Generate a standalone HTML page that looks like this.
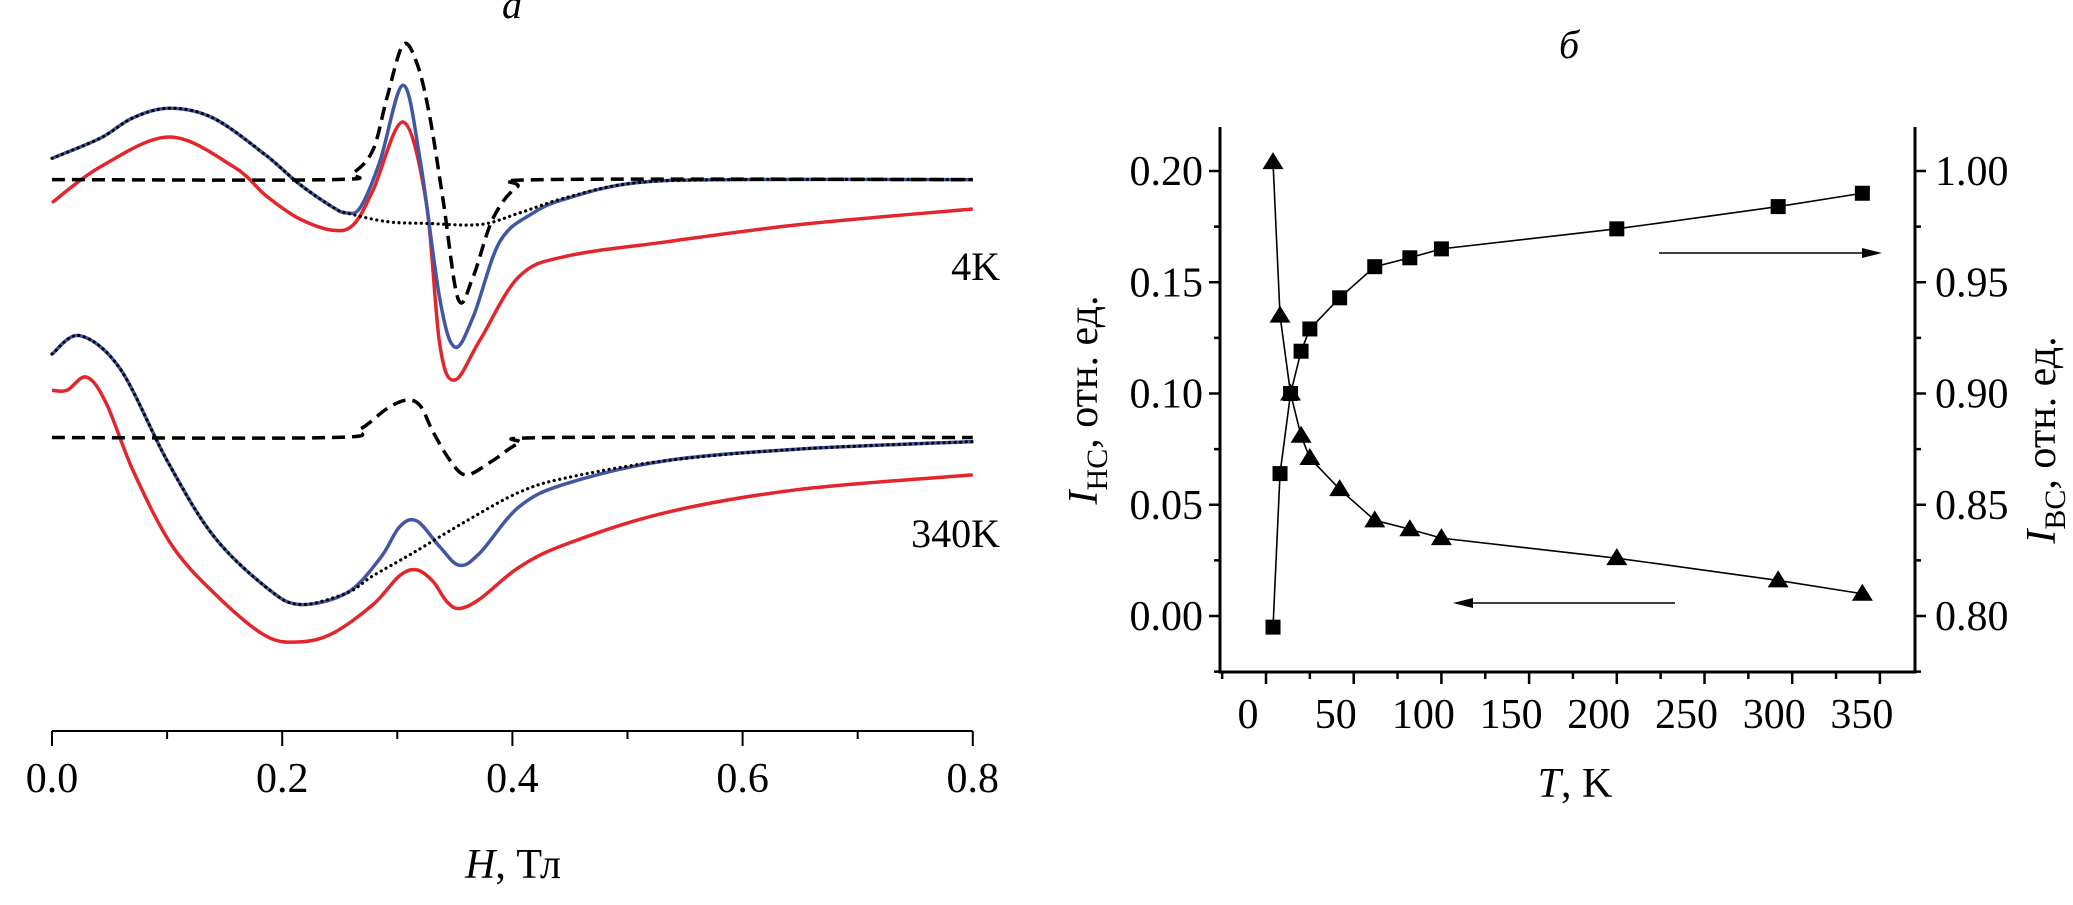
<!DOCTYPE html>
<html><head><meta charset="utf-8"><style>
body{margin:0;background:#fff}
svg text{font-family:"Liberation Serif",serif;fill:#000}
</style></head><body>
<svg id="fig" width="2073" height="900" viewBox="0 0 2073 900" xmlns="http://www.w3.org/2000/svg">
<g id="left"></g>
<g id="right"></g>
</svg>
<script>
// ---------- Panel a data (H in T, signal in a.u.) ----------
const env4H=[0,0.042,0.07,0.102,0.14,0.186,0.215,0.244,0.256];
const env4V=[102.5,106,109.5,111.2,109.5,103,98,94,93];
const blue4H=[0.268,0.285,0.305,0.320,0.337,0.350,0.366,0.389,0.418,0.447,0.505,0.592,0.8];
const blue4V=[94,102,115.2,102,78,69.7,75,88,93,95.5,98.2,98.8,98.8];
const dot4H=[0.291,0.325,0.372,0.406,0.447,0.505,0.592,0.8];
const dot4V=[91.5,91.2,91,93,95.7,98.2,98.8,98.8];
const dash4H=[0,0.244,0.262,0.279,0.291,0.305,0.317,0.328,0.34,0.353,0.366,0.383,0.404,0.43,0.8];
const dash4V=[98.8,98.8,100,104,113,122.2,119,110,95,78,82,92,97.5,98.8,98.8];
const red4H=[0,0.042,0.102,0.158,0.186,0.215,0.244,0.262,0.279,0.305,0.325,0.337,0.350,0.372,0.406,0.447,0.534,0.65,0.8];
const red4V=[94.8,101,106.2,101,96,92,90,91,97,108.8,95,70,64,71,82,85.5,88,91,93.7];
const env340H=[0,0.024,0.059,0.1,0.14,0.186,0.215,0.256];
const env340V=[68.5,71.7,66,50,37,28,25,27];
const blue340H=[0.285,0.302,0.317,0.337,0.354,0.372,0.406,0.447,0.534,0.65,0.8];
const blue340V=[33,38.5,39.5,35,31.8,34,42,46,50,52,53.3];
const dot340H=[0.279,0.314,0.360,0.406,0.447,0.534,0.65,0.8];
const dot340V=[30,34,39.5,44.5,47,50,52,53.3];
const dash340H=[0,0.244,0.268,0.291,0.308,0.320,0.331,0.346,0.360,0.383,0.406,0.435,0.8];
const dash340V=[54,54,55.5,59,60.5,59.5,55,50,47.5,50,53,54,54];
const red340H=[0,0.013,0.03,0.047,0.071,0.105,0.146,0.186,0.215,0.244,0.279,0.302,0.317,0.331,0.343,0.354,0.372,0.406,0.447,0.534,0.65,0.8];
const red340V=[62.2,62.2,64.5,60,48,35,26,19.5,18.5,20,25,30,31,29,25.5,24.3,26,31.5,35.5,41,45,47.5];
const hTicks=[0,0.1,0.2,0.3,0.4,0.5,0.6,0.7,0.8];
const hLabels=["0.0","","0.2","","0.4","","0.6","","0.8"];

// ---------- Panel b data ----------
const triT=[4,8,14,20,25,42,62,82,100,200,292,340];
const triV=[0.204,0.135,0.100,0.081,0.071,0.057,0.043,0.039,0.035,0.026,0.016,0.010];
const sqT=[4,8,14,20,25,42,62,82,100,200,292,340];
const sqV=[0.795,0.864,0.900,0.919,0.929,0.943,0.957,0.961,0.965,0.974,0.984,0.990];
const tTicks=[0,50,100,150,200,250,300,350];
const lTicks=[0,0.05,0.10,0.15,0.20];
const lLabels=["0.00","0.05","0.10","0.15","0.20"];
const rTicks=[0.80,0.85,0.90,0.95,1.00];
const rLabels=["0.80","0.85","0.90","0.95","1.00"];

const NS="http://www.w3.org/2000/svg";
function mk(parent,tag,attrs,text){const e=document.createElementNS(NS,tag);for(const k in attrs)e.setAttribute(k,attrs[k]);if(text!==undefined)e.textContent=text;parent.appendChild(e);return e;}
const hx=h=>52+h*1151;
const ay=v=>748.4-v*5.757;
function smooth(pts){let d="M"+pts[0][0]+","+pts[0][1];for(let i=0;i<pts.length-1;i++){const p0=pts[Math.max(i-1,0)],p1=pts[i],p2=pts[i+1],p3=pts[Math.min(i+2,pts.length-1)];const c1=[p1[0]+(p2[0]-p0[0])/6,p1[1]+(p2[1]-p0[1])/6],c2=[p2[0]-(p3[0]-p1[0])/6,p2[1]-(p3[1]-p1[1])/6];d+=" C"+c1[0].toFixed(1)+","+c1[1].toFixed(1)+" "+c2[0].toFixed(1)+","+c2[1].toFixed(1)+" "+p2[0].toFixed(1)+","+p2[1].toFixed(1);}return d;}
function pts(H,V){return H.map((h,i)=>[hx(h),ay(V[i])]);}
const L=document.getElementById('left');
function curve(H,V,style,name){const p=mk(L,'path',{d:smooth(pts(H,V)),fill:'none',...style});

}
const red={stroke:'#e3262b','stroke-width':3.5};
const blue={stroke:'#4257a3','stroke-width':3.5};
const dash={stroke:'#000','stroke-width':3.5,'stroke-dasharray':'13 7'};
const dot={stroke:'#000','stroke-width':3.2,'stroke-dasharray':'0.1 5.5','stroke-linecap':'round'};
curve(red4H.slice(),red4V,red,'red-curve-4k');
curve(env4H.concat(blue4H),env4V.concat(blue4V),blue,'blue-curve-4k');
curve(env4H.concat(dot4H),env4V.concat(dot4V),dot,'dotted-curve-4k');
curve(dash4H,dash4V,dash,'dashed-curve-4k');
curve(red340H,red340V,red,'red-curve-340k');
curve(env340H.concat(blue340H),env340V.concat(blue340V),blue,'blue-curve-340k');
curve(env340H.concat(dot340H),env340V.concat(dot340V),dot,'dotted-curve-340k');
curve(dash340H,dash340V,dash,'dashed-curve-340k');
// axis
let ax=mk(L,'line',{x1:hx(0),x2:hx(0.8),y1:731,y2:731,stroke:'#000','stroke-width':2});


hTicks.forEach((t,i)=>{const major=hLabels[i]!=="";
const tk=mk(L,'line',{x1:hx(t),x2:hx(t),y1:731,y2:major?746:739,stroke:'#000','stroke-width':2});


if(major){const tl=mk(L,'text',{x:hx(t),y:792,'font-size':42,'text-anchor':'middle'},hLabels[i]);

}});
let t1=mk(L,'text',{x:513,y:878,'font-size':42,'text-anchor':'middle'});t1.innerHTML='<tspan font-style="italic">H</tspan>, Тл';


let t2=mk(L,'text',{x:512,y:18,'font-size':40,'font-style':'italic','text-anchor':'middle'},'a');


let t3=mk(L,'text',{x:1000,y:280,'font-size':40,'text-anchor':'end'},'4K');


let t4=mk(L,'text',{x:1000,y:547,'font-size':40,'text-anchor':'end'},'340K');



// ---------- Panel b ----------
const R=document.getElementById('right');
const tx=t=>1266+t*1.754;
const ly=v=>616-v*2225;
const ry=v=>ly(v-0.8);
const X0=1220,X1=1915,Y0=127,Y1=672;
let fr=mk(R,'path',{d:`M${X0},${Y0} V${Y1} H${X1} V${Y0}`,fill:'none',stroke:'#000','stroke-width':3});


for(let t=-25;t<=375;t+=25){const x=tx(t);if(x<X0||x>X1)continue;const maj=t%50===0;
const tk=mk(R,'line',{x1:x,x2:x,y1:Y1,y2:Y1+(maj?12:7),stroke:'#000','stroke-width':2.5});

}
tTicks.forEach(t=>{const tl=mk(R,'text',{x:tx(t)-18,y:728,'font-size':42,'text-anchor':'middle'},String(t));

});
for(let v=-0.025;v<=0.2251;v+=0.025){const y=ly(v);if(y<Y0||y>Y1)continue;const maj=Math.abs(Math.round(v/0.05)*0.05-v)<1e-6;
const a=mk(R,'line',{x1:X0-(maj?11:6),x2:X0,y1:y,y2:y,stroke:'#000','stroke-width':2.5});


const b=mk(R,'line',{x1:X1,x2:X1+(maj?11:6),y1:y,y2:y,stroke:'#000','stroke-width':2.5});

}
lTicks.forEach((v,i)=>{const tl=mk(R,'text',{x:1203,y:ly(v)+14,'font-size':42,'text-anchor':'end'},lLabels[i]);

});
rTicks.forEach((v,i)=>{const tl=mk(R,'text',{x:1935,y:ry(v)+14,'font-size':42},rLabels[i]);

});
// lines
let pl=mk(R,'polyline',{points:triT.map((t,i)=>tx(t)+','+ly(triV[i])).join(' '),fill:'none',stroke:'#000','stroke-width':1.6});


let pl2=mk(R,'polyline',{points:sqT.map((t,i)=>tx(t)+','+ry(sqV[i])).join(' '),fill:'none',stroke:'#000','stroke-width':1.6});


triT.forEach((t,i)=>{const x=tx(t),y=ly(triV[i]);
const m=mk(R,'polygon',{points:`${x},${y-10} ${x-10.5},${y+7} ${x+10.5},${y+7}`,fill:'#000'});

});
sqT.forEach((t,i)=>{const x=tx(t),y=ry(sqV[i]);
const m=mk(R,'rect',{x:x-7.5,y:y-7.5,width:15,height:15,fill:'#000'});

});
// arrows
let ar1=mk(R,'g',{});

mk(ar1,'line',{x1:1659,x2:1870,y1:253,y2:253,stroke:'#000','stroke-width':1.6});
mk(ar1,'polygon',{points:'1882,253 1862,248 1862,258',fill:'#000'});
let ar2=mk(R,'g',{});

mk(ar2,'line',{x1:1675,x2:1465,y1:603,y2:603,stroke:'#000','stroke-width':1.6});
mk(ar2,'polygon',{points:'1453,603 1473,598 1473,608',fill:'#000'});
// titles
let tt=mk(R,'text',{x:1575,y:797,'font-size':42,'text-anchor':'middle'});tt.innerHTML='<tspan font-style="italic">T</tspan>, K';


let tb=mk(R,'text',{x:1569,y:58,'font-size':40,'font-style':'italic','text-anchor':'middle'},'б');


let yl=mk(R,'text',{x:0,y:0,'font-size':42,'text-anchor':'middle',transform:'translate(1097,400) rotate(-90)'});
yl.innerHTML='<tspan font-style="italic">I</tspan><tspan font-size="30" dy="10">HC</tspan><tspan dy="-10">, отн. ед.</tspan>';


let yr=mk(R,'text',{x:0,y:0,'font-size':42,'text-anchor':'middle',transform:'translate(2055,440) rotate(-90)'});
yr.innerHTML='<tspan font-style="italic">I</tspan><tspan font-size="30" dy="10">BC</tspan><tspan dy="-10">, отн. ед.</tspan>';


</script>
</body></html>
